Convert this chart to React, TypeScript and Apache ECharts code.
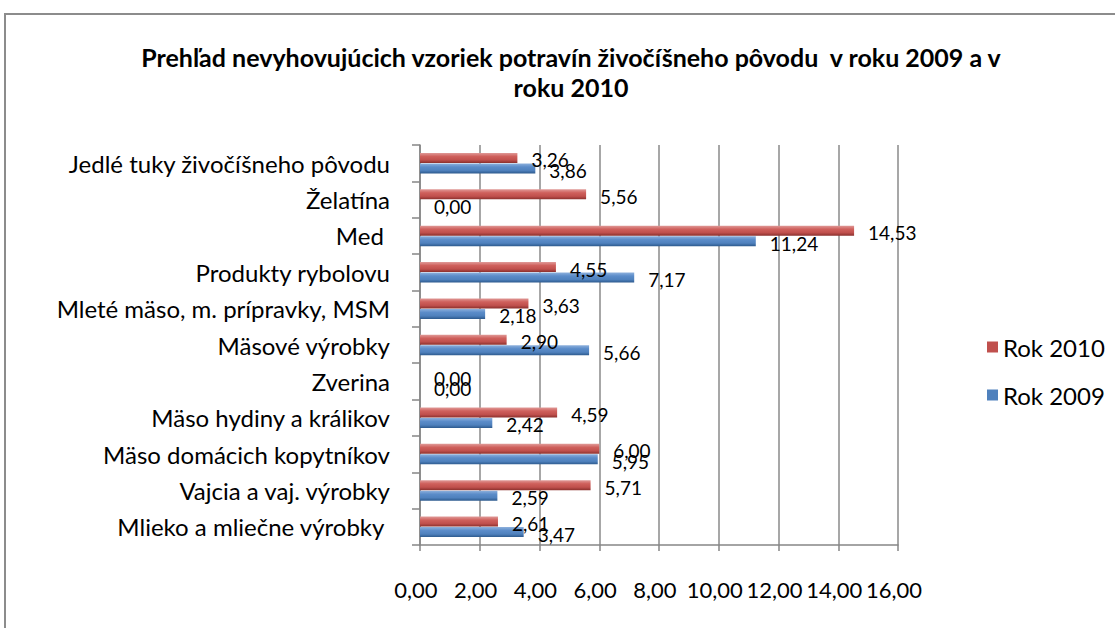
import React, { useEffect, useRef } from "react";
import * as echarts from "echarts";

const categories = [
  "Mlieko a mliečne výrobky ",
  "Vajcia a vaj. výrobky",
  "Mäso domácich kopytníkov",
  "Mäso hydiny a králikov",
  "Zverina",
  "Mäsové výrobky",
  "Mleté mäso, m. prípravky, MSM",
  "Produkty rybolovu",
  "Med ",
  "Želatína",
  "Jedlé tuky živočíšneho pôvodu",
];
const rok2009 = [3.47, 2.59, 5.95, 2.42, 0.0, 5.66, 2.18, 7.17, 11.24, 0.0, 3.86];
const rok2010 = [2.61, 5.71, 6.0, 4.59, 0.0, 2.9, 3.63, 4.55, 14.53, 5.56, 3.26];
const titleLines = [
  "Prehľad nevyhovujúcich vzoriek potravín živočíšneho pôvodu  v roku 2009 a v",
  "roku 2010",
];

const FONT = "Lato, 'Open Sans', sans-serif";
const fmt = (v: number) => v.toFixed(2).replace(".", ",");

export default function App() {
  const ref = useRef<HTMLDivElement>(null);
  useEffect(() => {
    if (!ref.current) return;
    const chart = echarts.init(ref.current, null, { renderer: "svg" });
    const grad = (c0: string, c1: string, c2: string, c3: string) =>
      new echarts.graphic.LinearGradient(0, 0, 0, 1, [
        { offset: 0, color: c0 },
        { offset: 0.35, color: c1 },
        { offset: 0.7, color: c2 },
        { offset: 1, color: c3 },
      ]);
    const labelCfg = {
      show: true,
      position: "right" as const,
      distance: 14,
      offset: [0, 2],
      color: "#000",
      fontSize: 19,
      fontFamily: FONT,
      formatter: (p: any) => fmt(p.value),
    };
    chart.setOption({
      animation: false,
      backgroundColor: "#fff",
      textStyle: { fontFamily: FONT },
      graphic: [
        {
          type: "rect",
          z: -10,
          shape: { x: 5, y: 14, width: 1200, height: 700 },
          style: { fill: "none", stroke: "#8c8c8c", lineWidth: 2 },
          silent: true,
        },
        {
          type: "text",
          x: 571,
          y: 72,
          style: {
            text: titleLines.join("\n"),
            align: "center",
            verticalAlign: "middle",
            fontSize: 25,
            fontWeight: "bold",
            fontFamily: FONT,
            lineHeight: 30,
            fill: "#000",
          },
        },
      ],
      legend: {
        orient: "vertical",
        left: 982,
        top: 330,
        itemWidth: 11,
        itemHeight: 11,
        itemGap: 24,
        icon: "rect",
        textStyle: { fontSize: 24, color: "#000", fontFamily: FONT },
        data: [
          { name: "Rok 2010", itemStyle: { color: "#C0504D" } },
          { name: "Rok 2009", itemStyle: { color: "#4F81BD" } },
        ],
      },
      grid: { left: 420, width: 478, top: 145, height: 400 },
      xAxis: {
        type: "value",
        min: 0,
        max: 16,
        interval: 2,
        axisLine: { show: true, lineStyle: { color: "#868686", width: 1.5 } },
        axisTick: { show: true, length: 6, lineStyle: { color: "#868686", width: 1.5 } },
        splitLine: { show: true, lineStyle: { color: "#8a8a8a", width: 1.5 } },
        axisLabel: {
          formatter: (v: number) => fmt(v),
          fontSize: 22,
          color: "#000",
          margin: 33,
          fontFamily: FONT,
          padding: [0, 8, 0, 0],
        },
      },
      yAxis: {
        type: "category",
        data: categories,
        axisLine: { show: true, lineStyle: { color: "#868686", width: 1.5 } },
        axisTick: { show: true, length: 8, lineStyle: { color: "#868686", width: 1.5 } },
        axisLabel: {
          fontSize: 24,
          color: "#000",
          margin: 30,
          fontFamily: FONT,
          padding: [10, 0, 0, 0],
        },
      },
      series: [
        {
          name: "Rok 2010",
          type: "bar",
          data: rok2010,
          barWidth: 10,
          barGap: "5%",
          itemStyle: { color: grad("#e09a98", "#cf605c", "#C0504D", "#8b302d") },
          label: labelCfg,
        },
        {
          name: "Rok 2009",
          type: "bar",
          data: rok2009,
          barWidth: 10,
          itemStyle: { color: grad("#8db0dc", "#5b8cc9", "#4F81BD", "#2d5a8e") },
          label: labelCfg,
        },
      ],
    });
    return () => chart.dispose();
  }, []);
  return (
    <div
      ref={ref}
      style={{ position: "absolute", left: 0, top: 0, width: 1115, height: 628 }}
    />
  );
}
